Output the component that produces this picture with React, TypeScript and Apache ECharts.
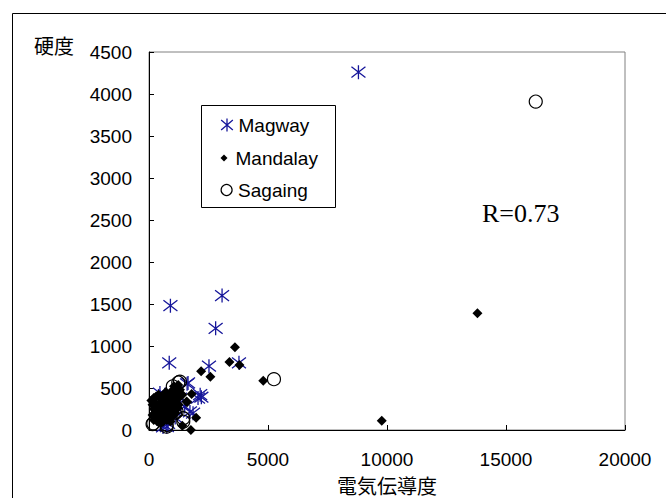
import React, { useEffect, useRef } from "react";
import * as echarts from "echarts";

const xTicks = [0, 5000, 10000, 15000, 20000];
const yTicks = [0, 500, 1000, 1500, 2000, 2500, 3000, 3500, 4000, 4500];
const seriesNames = ["Magway", "Mandalay", "Sagaing"];

const magway: number[][] = [
  [8800, 4260], [3070, 1600], [900, 1480], [2800, 1210], [850, 800], [2520, 760],
  [3780, 800], [2150, 420], [2200, 390], [1600, 550], [1640, 560], [1850, 200],
  [750, 40], [670, 420], [1180, 420], [1500, 280], [900, 330], [1050, 230],
  [600, 120], [800, 80], [1300, 380], [1100, 150], [500, 300], [460, 440],
  [950, 437], [2060, 380], [1720, 215], [590, 36], [1090, 277],
];

const mandalay: number[][] = [
  [13800, 1390], [9780, 110], [3610, 985], [3380, 810], [3800, 775], [2190, 700],
  [2580, 635], [4800, 585], [1790, 430], [1980, 145], [1760, 0], [1400, 50],
  [1580, 340], [1230, 535], [1000, 475],
  [100, 350], [150, 300], [200, 250], [250, 200], [300, 150], [350, 100],
  [400, 300], [450, 250], [500, 200], [550, 150], [600, 100], [650, 350],
  [700, 300], [750, 250], [800, 200], [850, 150], [900, 400], [950, 350],
  [1000, 300], [1050, 250], [1100, 200], [1150, 450], [1200, 500], [1250, 380],
  [300, 400], [400, 180], [550, 330], [650, 220], [750, 120], [850, 300],
  [950, 450], [1050, 520], [1300, 480], [1400, 420], [200, 120], [500, 80],
  [700, 450], [350, 260], [450, 380], [600, 280], [800, 380], [1000, 170],
  [1100, 330], [1200, 260], [250, 320], [150, 180], [900, 100], [1600, 330],
  [300, 220], [500, 330], [700, 160], [900, 250], [1100, 400], [400, 420],
  [600, 400], [800, 300], [1000, 380], [1250, 300], [200, 380], [650, 180],
];

const sagaing: number[][] = [
  [16250, 3910], [5250, 605], [1230, 565], [1300, 575], [150, 70], [740, 60],
  [740, 40], [1440, 100], [1440, 140], [1160, 218], [1090, 200], [180, 80],
  [1000, 520], [600, 250], [400, 150],
];

const rText = "R=0.73";
const xName = "電気伝導度";
const yName = "硬度";

const FONT = "'Liberation Sans', Arial, 'Noto Sans CJK JP', sans-serif";
const BLUE = "#16169a";
const ASTERISK = "path://M6 0L6 12M0.6 1.4L11.4 10.6M0.6 10.6L11.4 1.4";
const DIAMOND = "path://M5 0L10 5L5 10L0 5Z";

export default function App() {
  const ref = useRef<HTMLDivElement>(null);
  useEffect(() => {
    if (!ref.current) return;
    const chart = echarts.init(ref.current, null, { renderer: "svg" });
    const legendBase = {
      orient: "vertical",
      left: 220.5,
      padding: 0,
      itemWidth: 13,
      selectedMode: false,
      symbolKeepAspect: true,
      textStyle: { fontFamily: FONT, fontSize: 19, color: "#000", lineHeight: 22 },
    };
    chart.setOption({
      animation: false,
      backgroundColor: "#fff",
      grid: {
        left: 149, top: 52, width: 476, height: 378,
        containLabel: false, outerBoundsMode: "none",
        show: true, borderColor: "#808080", borderWidth: 1,
      },
      xAxis: {
        type: "value", min: 0, max: 20000, interval: 5000,
        name: xName, nameLocation: "middle", nameGap: 47,
        nameTextStyle: { fontFamily: FONT, fontSize: 20, color: "#000" },
        axisLine: { show: true, onZero: false, lineStyle: { color: "#000", width: 1 } },
        axisTick: { show: true, inside: true, length: 5, lineStyle: { color: "#000" } },
        axisLabel: { margin: 20, fontFamily: FONT, fontSize: 19, color: "#000",
          formatter: (v: number) => (xTicks.includes(v) ? String(v) : "") },
        splitLine: { show: false },
      },
      yAxis: {
        type: "value", min: 0, max: 4500, interval: 500,
        name: yName, nameLocation: "end", nameGap: 5,
        nameTextStyle: { fontFamily: FONT, fontSize: 20, color: "#000", align: "right",
          verticalAlign: "middle", padding: [0, 75, 0, 0] },
        axisLine: { show: true, onZero: false, lineStyle: { color: "#000", width: 1 } },
        axisTick: { show: true, inside: true, length: 5, lineStyle: { color: "#000" } },
        axisLabel: { margin: 17, fontFamily: FONT, fontSize: 19, color: "#000",
          formatter: (v: number) => (yTicks.includes(v) ? String(v) : "") },
        splitLine: { show: false },
      },
      legend: [
        { ...legendBase, top: 114, itemHeight: 13, data: [seriesNames[0]],
          itemStyle: { color: "transparent", borderColor: BLUE, borderWidth: 1.3 } },
        { ...legendBase, top: 147, itemHeight: 7, data: [seriesNames[1]],
          itemStyle: { color: "#000", borderWidth: 0 } },
        { ...legendBase, top: 179, itemHeight: 11, data: [seriesNames[2]],
          itemStyle: { color: "transparent", borderColor: "#000", borderWidth: 1.2 } },
      ],
      graphic: [
        { type: "rect", left: 10, top: 11, z: 100, silent: true,
          shape: { x: 0.5, y: 0.5, width: 654, height: 500 },
          style: { fill: "none", stroke: "#000", lineWidth: 1 } },
        { type: "rect", z: 100, silent: true,
          shape: { x: 201.5, y: 105.5, width: 134, height: 102 },
          style: { fill: "none", stroke: "#000", lineWidth: 1 } },
        { type: "text", x: 482, y: 213, z: 100, silent: true,
          style: { text: rText, fontFamily: "'Liberation Serif', 'Times New Roman', serif",
            fontSize: 26, fill: "#000", verticalAlign: "middle", align: "left" } },
      ],
      series: [
        { name: seriesNames[0], type: "scatter", data: magway, symbol: ASTERISK,
          symbolSize: 14,
          itemStyle: { color: "rgba(0,0,0,0)", borderColor: BLUE, borderWidth: 1.3, opacity: 1 } },
        { name: seriesNames[1], type: "scatter", data: mandalay, symbol: DIAMOND,
          symbolSize: 10, itemStyle: { color: "#000", opacity: 1 } },
        { name: seriesNames[2], type: "scatter", data: sagaing, symbol: "circle",
          symbolSize: 13,
          itemStyle: { color: "rgba(0,0,0,0)", borderColor: "#000", borderWidth: 1.2, opacity: 1 } },
      ],
    });
    return () => chart.dispose();
  }, []);
  return (
    <div
      ref={ref}
      style={{ position: "fixed", left: 0, top: 0, width: 666, height: 498 }}
    />
  );
}
